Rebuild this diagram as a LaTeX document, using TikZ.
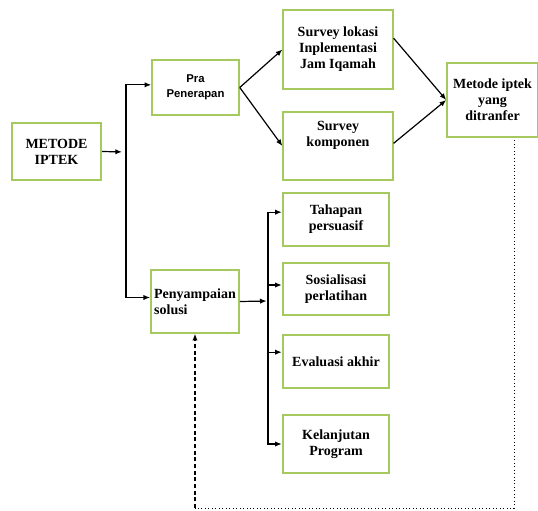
\documentclass[tikz,border=0pt]{standalone}
\usepackage{fontspec}
\setmainfont{Liberation Serif}
\newfontfamily\prafont{Liberation Sans}
\usetikzlibrary{arrows.meta}
\definecolor{hijau}{RGB}{165,200,95}
\begin{document}
\begin{tikzpicture}[x=0.75pt,y=-0.75pt,
    kotak/.style={rectangle,draw=hijau,line width=1.4pt,align=center,font=\bfseries\fontsize{10.5}{12}\selectfont,inner sep=2pt},
    panah/.style={-{Latex[length=5pt,width=4pt]},line width=0.9pt}]
    \useasboundingbox (0,0) rectangle (538,510);
    \node[kotak,minimum width=67pt,minimum height=43pt] (metode) at (56.5,151.5) {METODE\\IPTEK};
    \node[kotak,minimum width=65pt,minimum height=41pt,font=\prafont\bfseries\fontsize{8.5}{11}\selectfont] (pra) at (195.5,87.5) {Pra\\Penerapan};
    \node[kotak,minimum width=66pt,minimum height=47pt,align=left,inner sep=1pt] (penyampaian) at (195,301.5) {Penyampaian\\solusi};
    \node[kotak,minimum width=82pt,minimum height=59pt] (lokasi) at (338,49.5) {Survey lokasi\\Inplementasi\\Jam Iqamah};
    \node[kotak,minimum width=82pt,minimum height=51pt] (komponen) at (338,146) {Survey\\komponen\\[6pt]};
    \node[kotak,minimum width=68pt,minimum height=55pt] (transfer) at (492.5,100) {Metode iptek\\yang\\ditranfer};
    \node[kotak,minimum width=80pt,minimum height=40pt] (tahapan) at (336,219.5) {Tahapan\\persuasif};
    \node[kotak,minimum width=80pt,minimum height=39pt] (sosialisasi) at (336,289) {Sosialisasi\\perlatihan};
    \node[kotak,minimum width=80pt,minimum height=40pt] (evaluasi) at (336,361.5) {Evaluasi akhir};
    \node[kotak,minimum width=80pt,minimum height=43pt] (kelanjutan) at (336,444) {Kelanjutan\\Program};
    \coordinate (cabang1) at (126,152);
    \coordinate (cabang2) at (268,301);
    \coordinate (bawahkiri) at (195,508);
    \coordinate (bawahkanan) at (514,508);
    % cabang pertama
    \draw[panah,shorten >=3pt] (metode.east) -- (cabang1);
    \draw[panah] (cabang1) |- ([yshift=2pt]pra.west);
    \draw[panah] (cabang1) |- ([yshift=3pt]penyampaian.west);
    \draw[panah] (pra.east) -- (lokasi.west);
    \draw[panah] (pra.east) -- (komponen.west);
    \draw[panah] ([yshift=8.5pt]lokasi.east) -- (transfer.west);
    \draw[panah] ([yshift=2pt]komponen.east) -- (transfer.west);
    % cabang kedua
    \draw[panah,shorten >=1pt] (penyampaian.east) -- (cabang2);
    \draw[panah] (cabang2) |- ([yshift=5.5pt]tahapan.west);
    \draw[panah] (cabang2) |- ([yshift=3pt]sosialisasi.west);
    \draw[panah] (cabang2) |- ([yshift=7pt]evaluasi.west);
    \draw[panah] (cabang2) |- (kelanjutan.west);
    % umpan balik
    \draw[dotted,line width=0.6pt] ([yshift=-2pt]transfer.south -| bawahkanan) -- (bawahkanan) -- (bawahkiri);
    \draw[panah,dashed,dash pattern=on 3pt off 2pt] (bawahkiri) -- (penyampaian.south);
\end{tikzpicture}
\end{document}
